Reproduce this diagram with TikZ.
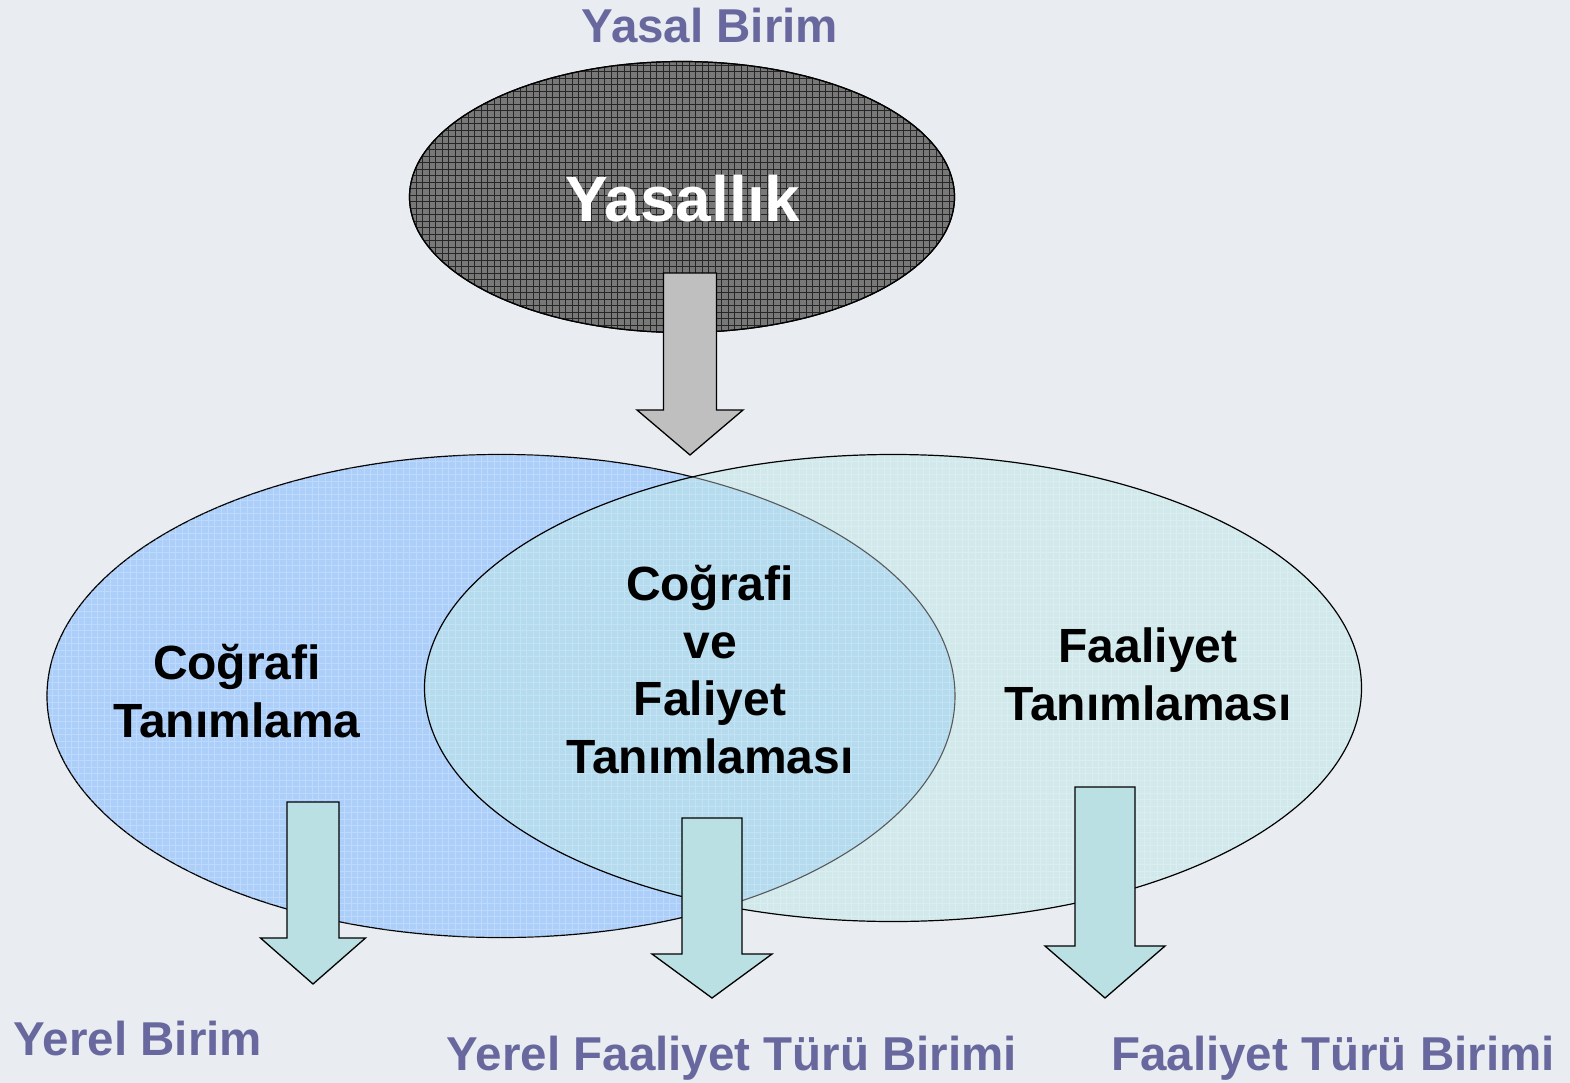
\documentclass[tikz,border=0pt]{standalone}
\usepackage{fontspec}
\setmainfont{Liberation Sans}
\usetikzlibrary{shapes.geometric}

\definecolor{bgcol}{RGB}{233,237,242}
\definecolor{unitcol}{RGB}{104,104,158}
\definecolor{geocol}{RGB}{172,207,250}
\definecolor{actcol}{RGB}{210,233,236}
\definecolor{bothcol}{RGB}{180,219,238}
\definecolor{arrowcol}{RGB}{186,224,227}
\definecolor{legalcol}{RGB}{120,120,120}

% block arrow pointing down: style, x, y top, y head, y tip, half shaft, half head
\newcommand{\blockdown}[7]{%
  \draw[#1] (#2-#6,#3) -- (#2+#6,#3) -- (#2+#6,#4) -- (#2+#7,#4)
    -- (#2,#5) -- (#2-#7,#4) -- (#2-#6,#4) -- cycle;}

\begin{document}
\begin{tikzpicture}[x=1pt, y=-1pt]
        \tikzstyle{unit}=[text=unitcol, font=\bfseries\fontsize{47.5}{57}\selectfont, anchor=base, inner sep=0pt]
        \tikzstyle{lbl}=[text=black, font=\bfseries\fontsize{48}{57.5}\selectfont, align=center, anchor=base, inner sep=0pt]
        \tikzstyle{set}=[ellipse, inner sep=0pt]
        \tikzstyle{arr}=[draw=black, line width=1.3pt, line join=miter]
        \tikzstyle{texture}=[step=6.5pt, line width=0.8pt, white, opacity=0.22]

        \useasboundingbox (0,0) rectangle (1570,1083);
        \fill[bgcol] (0,0) rectangle (1570,1083);

        % Yasal birim
        \node[set, draw=black, line width=1.2pt, fill=legalcol, minimum width=545pt, minimum height=271pt] (yasal) at (682,197) {};
        \begin{scope}
            \clip (yasal.center) ellipse [x radius=272pt, y radius=135pt];
            \draw[step=6.5pt, line width=0.7pt, black!85] (400,50) grid (970,340);
        \end{scope}
        \draw[line width=1.2pt] (yasal.center) ellipse [x radius=272.5pt, y radius=135.5pt];
        \node[text=white, font=\bfseries\fontsize{64}{70}\selectfont, anchor=base, inner sep=0pt] (yasallik) at (683,222) {Yasallık};

        % sets
        \node[set, draw=black, line width=1.2pt, fill=geocol, minimum width=908pt, minimum height=483pt] (cog) at (501,696) {};
        \node[set, fill=actcol, minimum width=937pt, minimum height=467pt] (faal) at (893,688) {};
        \begin{scope}
            \clip (cog.center) ellipse [x radius=454pt, y radius=241.5pt];
            \fill[bothcol] (faal.center) ellipse [x radius=468.5pt, y radius=233.5pt];
        \end{scope}
        \begin{scope}
            \clip (cog.center) ellipse [x radius=454pt, y radius=241.5pt]
                  (faal.center) ellipse [x radius=468.5pt, y radius=233.5pt];
            \draw[texture] (40,450) grid (1370,945);
        \end{scope}
        \begin{scope}
            \clip (faal.center) ellipse [x radius=468.5pt, y radius=233.5pt];
            \draw[line width=1.1pt, black!65] (cog.center) ellipse [x radius=454pt, y radius=241.5pt];
        \end{scope}
        \draw[line width=1.2pt] (faal.center) ellipse [x radius=468.5pt, y radius=233.5pt];

        \node[lbl] (coglbl) at (237,737) {Coğrafi\\Tanımlama};
        \node[lbl] (bothlbl) at (710,773) {Coğrafi\\ve\\Faliyet\\Tanımlaması};
        \node[lbl] (faallbl) at (1148,720) {Faaliyet\\Tanımlaması};

        % arrows
        \blockdown{arr, fill=black!25}{690}{273}{410}{455}{26.5}{53}
        \blockdown{arr, fill=arrowcol}{313}{802}{938}{984}{26}{52.5}
        \blockdown{arr, fill=arrowcol}{712}{818}{954}{998}{30}{60}
        \blockdown{arr, fill=arrowcol}{1105}{787}{946}{998}{30}{60}

        % unit names
        \node[unit] (yasalbirim) at (710,43) {Yasal Birim};
        \node[unit] (yerel) at (138,1055) {Yerel Birim};
        \node[unit] (yerelfaal) at (732,1070) {Yerel Faaliyet Türü Birimi};
        \node[unit] (faalbirim) at (1333,1070) {Faaliyet Türü Birimi};
\end{tikzpicture}
\end{document}
